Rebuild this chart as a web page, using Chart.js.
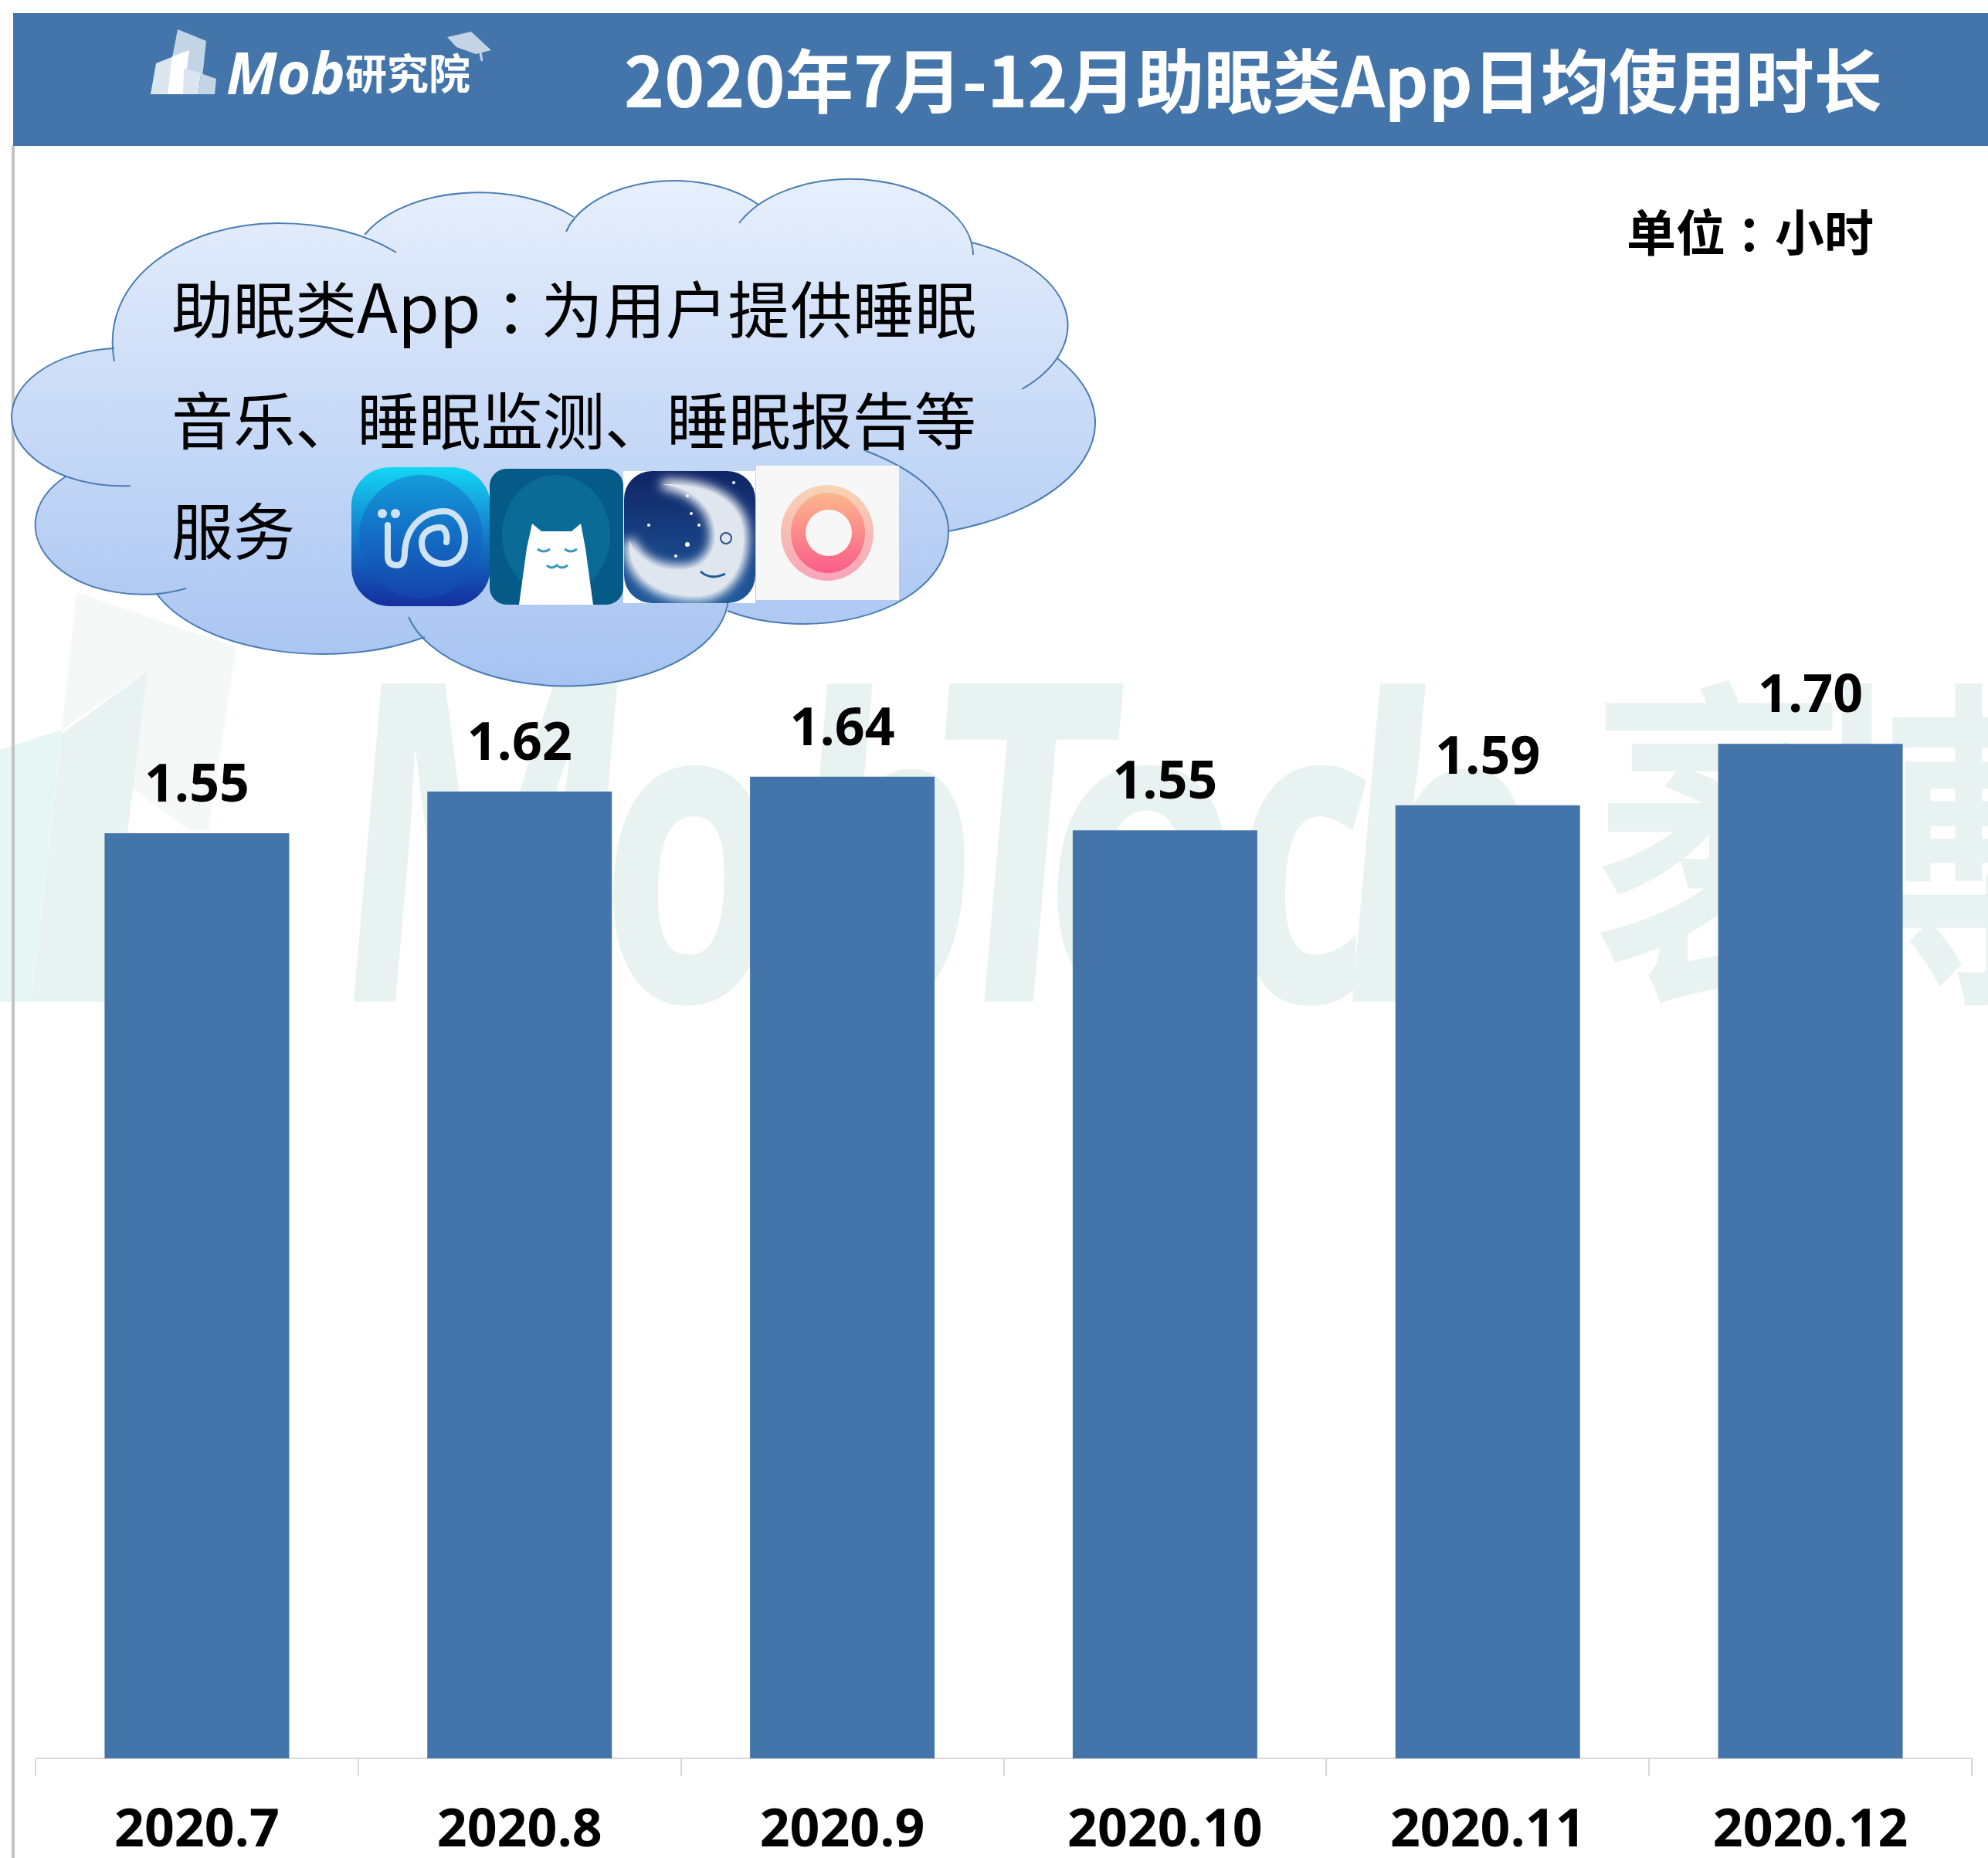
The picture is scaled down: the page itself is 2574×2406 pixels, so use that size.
<!DOCTYPE html>
<html lang="zh-CN"><head><meta charset="utf-8">
<script src="https://cdn.jsdelivr.net/npm/chart.js@4"></script>
<style>
html,body{margin:0;padding:0;background:#fff;width:2574px;height:2406px;overflow:hidden}
#stage{position:relative;width:2574px;height:2406px;overflow:hidden}
#stage>*{position:absolute;left:0;top:0}
#c{z-index:2}
#wm{z-index:1}
#ov{z-index:3}
text{font-family:"Noto Sans CJK SC",sans-serif}
.os{font-family:"Open Sans",sans-serif}
</style></head><body><div id="stage">
<svg id="wm" width="2574" height="2406" viewBox="0 0 2574 2406">
 <polygon fill="#f4f9f7" points="99,767 306,838 270,1075 245,1075 170,1020 191,869 80,945"/>
 <polygon fill="#e8f2f0" points="191,869 165,1078 260,1085 240,1297 40,1297 80,950"/>
 <polygon fill="#e6f6f4" points="0,971 80,945 40,1297 0,1297"/>
 <g fill="#e8f2f0" font-size="100" font-weight="700">
  <text class="os" transform="translate(422,1297) skewX(-5) scale(4.0,5.77)">M</text>
  <text class="os" transform="translate(772,1297) skewX(-2) scale(3.8,5.5)">o</text>
  <text class="os" transform="translate(1005,1297) skewX(-5) scale(3.9,5.42)">b</text>
  <text class="os" transform="translate(1185,1297) skewX(-5) scale(4.18,5.77)">T</text>
  <text class="os" transform="translate(1345,1297) skewX(-2) scale(4.3,5.5)">e</text>
  <text class="os" transform="translate(1590,1297) skewX(-2) scale(3.5,5.5)">c</text>
  <text class="os" transform="translate(1720,1297) skewX(-5) scale(3.95,5.42)">h</text>
  <text transform="translate(2063,1263) scale(3.25,4.45)">袤</text>
  <text transform="translate(2340,1263) scale(3.25,4.45)">博</text>
 </g>
</svg>
<canvas id="c" width="2574" height="2406"></canvas>
<svg id="ov" width="2574" height="2406" viewBox="0 0 2574 2406">
 <defs>
  <linearGradient id="cg" gradientUnits="userSpaceOnUse" x1="0" y1="231" x2="0" y2="890"><stop offset="0" stop-color="#e7effc"/><stop offset="1" stop-color="#a6c3f1"/></linearGradient>
  <linearGradient id="i1" x1="0" y1="0" x2="0" y2="1"><stop offset="0" stop-color="#14d6f4"/><stop offset=".45" stop-color="#1382cf"/><stop offset="1" stop-color="#142f9e"/></linearGradient>
  <linearGradient id="i3" x1="0" y1="0" x2="0" y2="1"><stop offset="0" stop-color="#0f2566"/><stop offset="1" stop-color="#1f5a9c"/></linearGradient>
  <linearGradient id="i4a" x1="0" y1="0" x2="0" y2="1"><stop offset="0" stop-color="#f8d4b4"/><stop offset="1" stop-color="#f8a4b8"/></linearGradient>
  <linearGradient id="i4b" x1="0" y1="0" x2="0" y2="1"><stop offset="0" stop-color="#fbb78c"/><stop offset="1" stop-color="#fb5c8a"/></linearGradient>
  <filter id="glow" x="-30%" y="-30%" width="160%" height="160%"><feGaussianBlur stdDeviation="7"/></filter>
  <clipPath id="moonclip"><rect x="808" y="610" width="170" height="171" rx="36"/></clipPath>
 </defs>
 <rect x="15" y="189" width="4" height="2217" fill="#c4c4c4"/>
 <rect x="17" y="17" width="2557" height="172" fill="#4475aa"/>
 <!-- logo -->
 <polygon fill="#c3d4e6" points="230,38 267,53 262,100 237,92 223,75"/>
 <polygon fill="#dce6f0" points="195,122 202,82 245,65 238,122"/>
 <polygon fill="#ffffff" points="217,122 223,73 245,65 237,122"/>
 <polygon fill="#dce6f0" points="238,88 260,95 257,122 237,122"/>
 <polygon fill="#c3d4e6" points="260,95 280,102 278,122 257,122"/>
 <polygon fill="#c3d4e6" points="579,48 610,41 636,65 616,70 591,61"/>
 <path d="M622,68 L624,79" stroke="#c3d4e6" stroke-width="3"/>
 <text class="os" x="293" y="122" font-size="76" font-weight="700" font-style="italic" fill="#fff" textLength="154" lengthAdjust="spacingAndGlyphs">Mob</text>
 <text x="447" y="116" font-size="54" font-weight="700" fill="#fff">研究院</text>
 <text id="title" x="808" y="139" font-size="90" font-weight="700" fill="#fff" textLength="1629" lengthAdjust="spacingAndGlyphs">2020年7月-12月助眠类App日均使用时长</text>
 <text x="2106" y="325" font-size="64" font-weight="700" fill="#000">单位<tspan dx="15">：</tspan><tspan dx="-15">小时</tspan></text>
 <!-- cloud -->
 <path fill="url(#cg)" d="M148,468 C128,360 240,289 360,289 C420,289 475,303 513,327 L472,304 A164,95 0 0 1 743,281 L733,300 A145,90 0 0 1 982,265 L957,289 A159,99 0 0 1 1260,330 L1258,314 A205,117 0 0 1 1323,504 L1369,464 A285,149 0 0 1 1228,688 L1119,583 C1190,610 1228,645 1228,688 C1228,760 1140,808 1041,808 C1005,808 970,802 942,791 L943,775 A210,117 0 0 1 529,799 L550,825 A230,121 0 0 1 203,769 L241,762 A139,90 0 0 1 85,617 L169,629 A143,89 0 0 1 148,451 Z"/>
 <g fill="none" stroke="#4a7cb3" stroke-width="2">
  <path d="M148,468 C128,360 240,289 360,289 C420,289 475,303 513,327"/>
  <path d="M472,304 A164,95 0 0 1 743,281"/>
  <path d="M733,300 A145,90 0 0 1 982,265"/>
  <path d="M957,289 A159,99 0 0 1 1260,330"/>
  <path d="M1258,314 A205,117 0 0 1 1323,504"/>
  <path d="M1369,464 A285,149 0 0 1 1228,688"/>
  <path d="M1119,583 C1190,610 1228,645 1228,688 C1228,760 1140,808 1041,808 C1005,808 970,802 942,791"/>
  <path d="M943,775 A210,117 0 0 1 529,799"/>
  <path d="M550,825 A230,121 0 0 1 203,769"/>
  <path d="M241,762 A139,90 0 0 1 85,617"/>
  <path d="M169,629 A143,89 0 0 1 148,451"/>
 </g>
 <g font-size="80" fill="#000">
  <text x="222" y="431">助眠类<tspan font-size="87">App</tspan><tspan dx="19">：</tspan><tspan dx="-21" letter-spacing="0.6">为用户提供睡眠</tspan></text>
  <text x="222" y="575" textLength="1042" lengthAdjust="spacingAndGlyphs">音乐、睡眠监测、睡眠报告等</text>
  <text x="222" y="718" textLength="160" lengthAdjust="spacingAndGlyphs">服务</text>
 </g>
 <!-- icons -->
 <rect x="455" y="605" width="180" height="180" rx="50" fill="url(#i1)"/>
 <circle cx="545" cy="695" r="80" fill="#1457b8" opacity=".4"/>
 <g fill="none" stroke="#cfe3f5" stroke-width="8" stroke-linecap="round">
  <path d="M502,680 V720 Q502,732 514,732 Q524,732 524,715 C526,680 550,662 575,662 C592,662 602,680 602,697 C602,718 590,730 575,730 C558,730 546,718 546,703 C546,690 556,683 570,683 C576,683 580,692 578,702"/>
 </g>
 <circle cx="495" cy="665" r="6" fill="#cfe3f5"/><circle cx="512" cy="665" r="6" fill="#cfe3f5"/>
 <rect x="634" y="607" width="173" height="176" rx="22" fill="#065a87"/>
 <ellipse cx="720" cy="693" rx="70" ry="78" fill="#0a6c96"/>
 <path d="M672,783 L682,710 L689,678 L701,688 H740 L752,678 L758,710 L768,783 Z" fill="#fff"/>
 <g fill="none" stroke="#3f98bd" stroke-width="3"><path d="M696,711 Q704,717 712,711"/><path d="M731,711 Q739,717 747,711"/><path d="M708,732 Q714,738 721,732 Q727,738 735,732"/></g>
 <rect x="807" y="610" width="171" height="171" fill="#fff"/>
 <rect x="808" y="610" width="170" height="171" rx="36" fill="url(#i3)"/>
 <g clip-path="url(#moonclip)">
  <path d="M857,627 C920,625 963,650 963,695 C963,745 935,772 900,772 C850,772 812,745 815,700 C825,725 850,738 880,738 C910,738 928,718 926,690 C924,655 895,632 857,627Z" fill="#fff" stroke="#fff" stroke-width="12" filter="url(#glow)"/>
  <path d="M857,627 C920,625 963,650 963,695 C963,745 935,772 900,772 C850,772 812,745 815,700 C825,725 850,738 880,738 C910,738 928,718 926,690 C924,655 895,632 857,627Z" fill="#dfe6ee"/>
 </g>
 <g fill="#fff"><circle cx="890" cy="642" r="2"/><circle cx="895" cy="665" r="2"/><circle cx="905" cy="680" r="2"/><circle cx="890" cy="705" r="3"/><circle cx="875" cy="720" r="2"/><circle cx="840" cy="680" r="2"/><circle cx="950" cy="625" r="2"/></g>
 <circle cx="940" cy="697" r="7" fill="none" stroke="#27507f" stroke-width="2"/>
 <path d="M907,740 Q920,752 939,743" fill="none" stroke="#1d5a9a" stroke-width="3"/>
 <rect x="979" y="603" width="185" height="174" fill="#f7f7f7"/>
 <ellipse cx="1071" cy="690" rx="60" ry="62" fill="url(#i4a)"/>
 <ellipse cx="1072" cy="690" rx="48" ry="52" fill="url(#i4b)"/>
 <ellipse cx="1073" cy="690" rx="30" ry="30" fill="#f7f7f7"/>
</svg>
</div>
<script>
const categories = ["2020.7","2020.8","2020.9","2020.10","2020.11","2020.12"];
const values = [1.55,1.62,1.645,1.555,1.597,1.70];
const valueLabels = ["1.55","1.62","1.64","1.55","1.59","1.70"];
const FONT = '"Open Sans","Noto Sans CJK SC",sans-serif';
const barLabels = {
  id:'barLabels',
  afterDatasetsDraw(chart){
    const ctx = chart.ctx;
    const meta = chart.getDatasetMeta(0);
    ctx.save();
    ctx.font = '700 68px '+FONT;
    ctx.fillStyle = '#000';
    ctx.textAlign = 'center';
    ctx.textBaseline = 'alphabetic';
    meta.data.forEach((bar,i)=>ctx.fillText(valueLabels[i], bar.x, bar.y-41));
    ctx.restore();
  }
};
new Chart(document.getElementById('c'),{
  type:'bar',
  data:{labels:categories,datasets:[{data:values,backgroundColor:'#4475aa',borderWidth:0,categoryPercentage:1,barPercentage:0.572}]},
  plugins:[barLabels],
  options:{
    responsive:false,animation:false,
    layout:{padding:{left:46,right:21,top:113,bottom:0}},
    plugins:{legend:{display:false},title:{display:false},tooltip:{enabled:false}},
    scales:{
      y:{display:false,min:0,max:2.8},
      x:{
        offset:true,
        grid:{display:true,drawOnChartArea:false,drawTicks:true,tickLength:23,color:'#d9d9d9',lineWidth:2},
        border:{display:true,color:'#d9d9d9',width:2},
        ticks:{color:'#000',font:{family:FONT,size:68,weight:'700'},padding:31,autoSkip:false,maxRotation:0,minRotation:0},
        afterFit(s){s.height=129;}
      }
    }
  }
});
</script>
</body></html>
